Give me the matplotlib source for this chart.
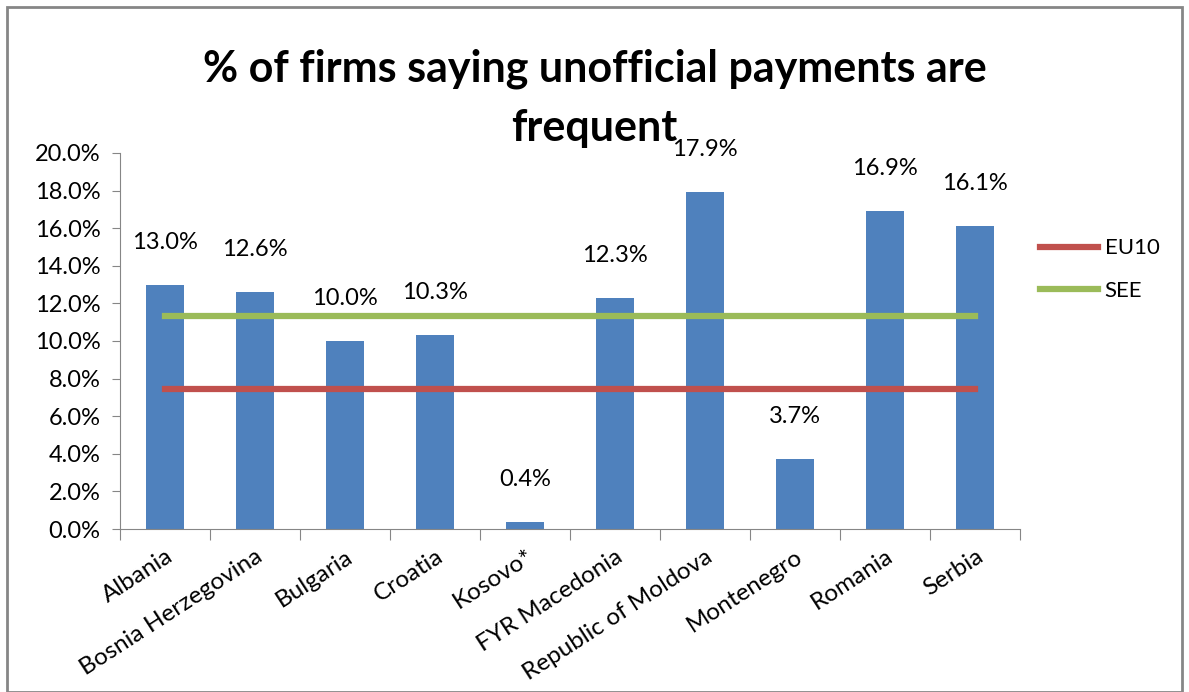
import matplotlib.pyplot as plt
from matplotlib.patches import Rectangle
from matplotlib.ticker import FuncFormatter

# Gegevens
landen = ["Albania", "Bosnia Herzegovina", "Bulgaria", "Croatia", "Kosovo*",
          "FYR Macedonia", "Republic of Moldova", "Montenegro", "Romania", "Serbia"]
waarden = [13.0, 12.6, 10.0, 10.3, 0.4, 12.3, 17.9, 3.7, 16.9, 16.1]
eu10 = 7.45
see = 11.33

plt.rcParams['font.family'] = ['Lato', 'DejaVu Sans']

fig = plt.figure(figsize=(11.89, 6.92), dpi=100)
ax = fig.add_axes([0.101, 0.2355, 0.757, 0.5435])

x = list(range(len(landen)))
ax.bar(x, waarden, width=0.42, color="#4F81BD", zorder=2)
ax.plot([x[0], x[-1]], [eu10, eu10], color="#C0504D", lw=4.5, label="EU10", zorder=3)
ax.plot([x[0], x[-1]], [see, see], color="#9BBB59", lw=4.5, label="SEE", zorder=3)

for xi, v in zip(x, waarden):
    ax.text(xi, v + 1.7, f"{v:.1f}%", ha="center", va="bottom", fontsize=17)

ax.set_xlim(-0.5, len(landen) - 0.5)
ax.set_ylim(0, 20)
ax.set_yticks([i * 2 for i in range(11)])
ax.yaxis.set_major_formatter(FuncFormatter(lambda v, p: f"{v:.1f}%"))
ax.set_xticks([i + 0.5 for i in range(-1, len(landen))], minor=False)
ax.set_xticklabels([])
ax.set_xticks(x, minor=True)
ax.set_xticklabels(landen, minor=True, rotation=33, ha="right",
                   rotation_mode="anchor", fontsize=17.5)
ax.tick_params(axis="x", which="minor", length=0, pad=12)
ax.tick_params(axis="x", which="major", length=8, color="#868686", direction="out")
ax.tick_params(axis="y", labelsize=17, length=6, pad=8, color="#868686", direction="out")

for s in ["top", "right"]:
    ax.spines[s].set_visible(False)
ax.spines["left"].set_color("#868686")
ax.spines["bottom"].set_color("#868686")

ax.legend(loc="center left", bbox_to_anchor=(1.0, 0.69), frameon=False,
          fontsize=16, handlelength=2.6, handletextpad=0.3, labelspacing=1.0)

fig.text(0.5, 0.9, "% of firms saying unofficial payments are", ha="center",
         va="center", fontsize=31, fontweight="bold")
fig.text(0.5, 0.815, "frequent", ha="center", va="center", fontsize=31,
         fontweight="bold")

fig.patches.append(Rectangle((0.006, 0.0), 0.988, 0.99, transform=fig.transFigure,
                             fill=False, edgecolor="#868686", lw=2))

fig.savefig("out.png", dpi=100)
